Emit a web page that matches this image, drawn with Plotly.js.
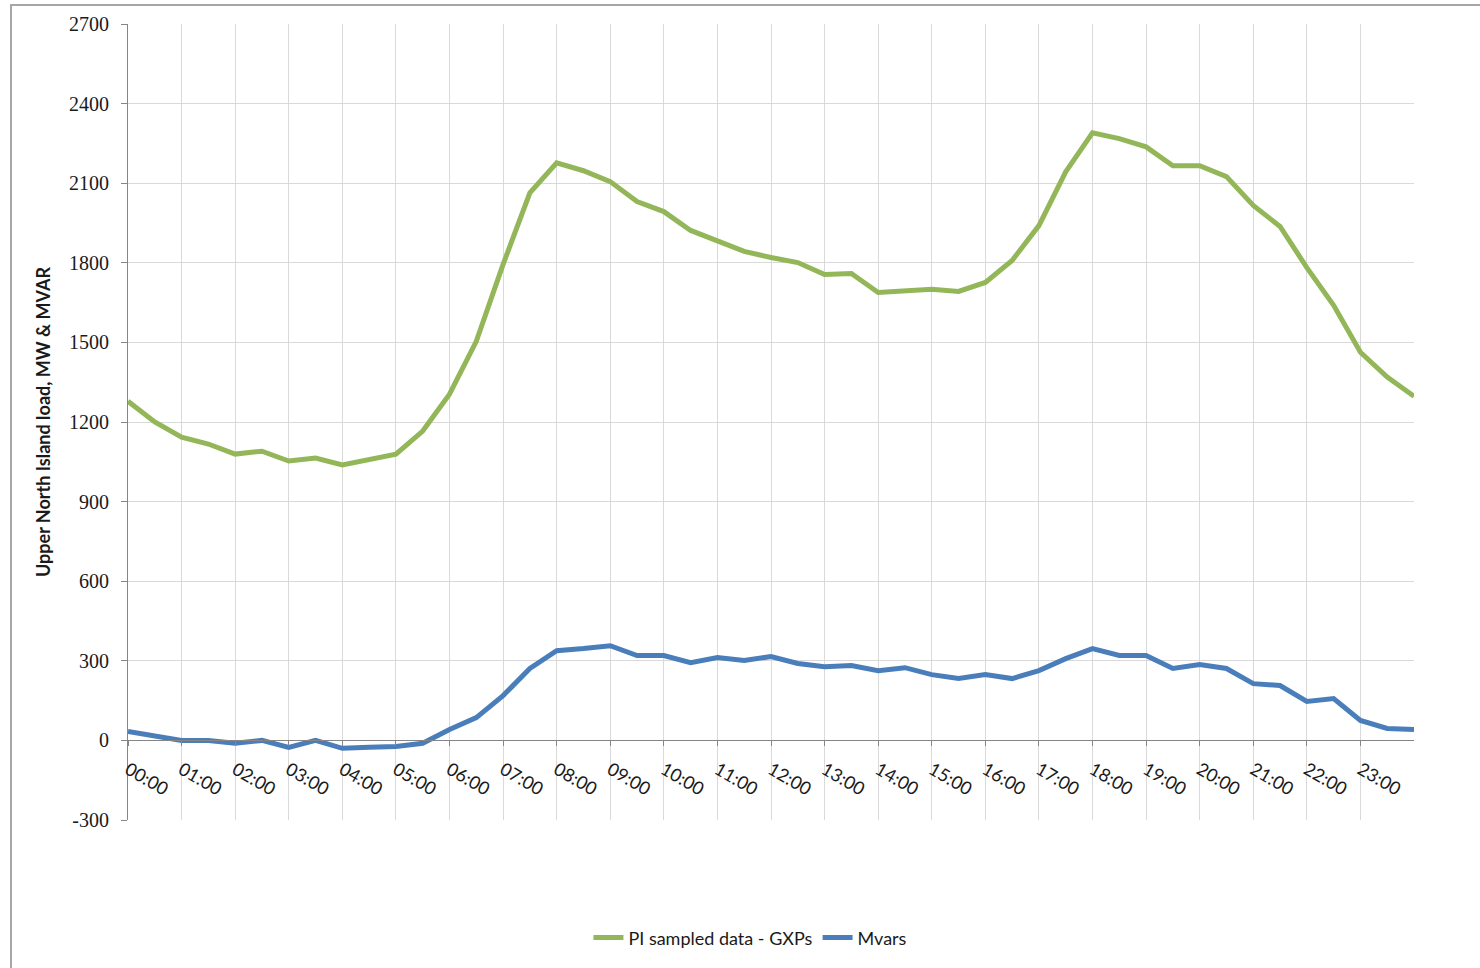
<!DOCTYPE html>
<html>
<head>
<meta charset="utf-8">
<script src="https://cdn.plot.ly/plotly-3.0.1.min.js"></script>
<style>
  html, body { margin: 0; padding: 0; background: #ffffff; }
  #frame { position: absolute; left: 10px; top: 4px; width: 1470px; height: 964px;
           border-left: 2px solid #a6a6a6; border-top: 2px solid #a6a6a6; box-sizing: border-box; }
  #chart { position: absolute; left: 0; top: 0; width: 1480px; height: 968px; }
</style>
</head>
<body>
<div id="frame"></div>
<div id="chart"></div>
<script>
// Half-hourly sample times
const sampleTimes = ["00:00","00:30","01:00","01:30","02:00","02:30","03:00","03:30","04:00","04:30",
  "05:00","05:30","06:00","06:30","07:00","07:30","08:00","08:30","09:00","09:30",
  "10:00","10:30","11:00","11:30","12:00","12:30","13:00","13:30","14:00","14:30",
  "15:00","15:30","16:00","16:30","17:00","17:30","18:00","18:30","19:00","19:30",
  "20:00","20:30","21:00","21:30","22:00","22:30","23:00","23:30","24:00"];

// PI sampled data - GXPs (MW)
const gxpLoad = [1278,1200,1143,1117,1079,1090,1053,1064,1038,1057,
  1079,1166,1305,1504,1794,2064,2177,2147,2106,2031,
  1993,1922,1884,1843,1820,1801,1756,1760,1688,1696,
  1700,1692,1726,1809,1940,2143,2290,2268,2237,2166,
  2166,2125,2016,1937,1782,1640,1463,1369,1297];

// Mvars
const mvars = [34,19,0,0,-11,0,-26,0,-30,-26,
  -23,-11,41,86,169,271,338,346,357,320,
  320,293,312,301,316,290,278,282,263,274,
  248,233,248,233,263,308,346,320,320,271,
  286,271,214,207,147,158,75,45,41];

// Hour tick labels
const hourLabels = ["00:00","01:00","02:00","03:00","04:00","05:00","06:00","07:00","08:00","09:00",
  "10:00","11:00","12:00","13:00","14:00","15:00","16:00","17:00","18:00","19:00",
  "20:00","21:00","22:00","23:00"];

// Value axis tick labels
const yTickLabels = ["-300","0","300","600","900","1200","1500","1800","2100","2400","2700"];

function toHours(t) { const p = t.split(":"); return Number(p[0]) + Number(p[1]) / 60; }
const xHours = sampleTimes.map(toHours);
const hourTickVals = hourLabels.map(toHours);
const yTickVals = yTickLabels.map(Number);

const traces = [
  { x: xHours, y: gxpLoad, type: "scatter", mode: "lines", name: "PI sampled data - GXPs",
    line: { color: "#93b658", width: 5 } },
  { x: xHours, y: mvars, type: "scatter", mode: "lines", name: "Mvars",
    line: { color: "#4a7ebb", width: 5 } }
];

const layout = {
  width: 1480, height: 968,
  margin: { l: 128, r: 66, t: 24, b: 146 },
  paper_bgcolor: "rgba(0,0,0,0)",
  plot_bgcolor: "#ffffff",
  showlegend: true,
  legend: {
    orientation: "h", x: 0.484, xanchor: "center", y: -0.148, yanchor: "middle",
    font: { family: "Lato, 'Open Sans', sans-serif", size: 18, color: "#1a1a1a" },
    tracegroupgap: 0
  },
  xaxis: {
    range: [0, 24], tickmode: "array", tickvals: hourTickVals, ticktext: hourLabels,
    tickangle: 30, anchor: "free", position: 0.1,
    showline: true, linecolor: "#868686", linewidth: 1,
    ticks: "outside", ticklen: 5, tickcolor: "#868686", ticklabelstandoff: 6,
    showgrid: true, gridcolor: "#d9d9d9", gridwidth: 1, zeroline: false,
    tickfont: { family: "Lato, 'Open Sans', sans-serif", size: 18, color: "#1a1a1a" }
  },
  yaxis: {
    range: [-300, 2700], tickmode: "array", tickvals: yTickVals, ticktext: yTickLabels,
    showline: true, linecolor: "#868686", linewidth: 1,
    ticks: "outside", ticklen: 6, tickcolor: "#868686", ticklabelstandoff: 8,
    showgrid: true, gridcolor: "#d9d9d9", gridwidth: 1, zeroline: false,
    tickfont: { family: "Liberation Serif", size: 20, color: "#1a1a1a" },
    title: { text: "Upper North Island load, MW & MVAR", standoff: 13,
      font: { family: "Lato, 'Open Sans', sans-serif", size: 18, color: "#1a1a1a", weight: "bold" } }
  }
};

Plotly.newPlot("chart", traces, layout, { staticPlot: true, displayModeBar: false });
</script>
</body>
</html>
